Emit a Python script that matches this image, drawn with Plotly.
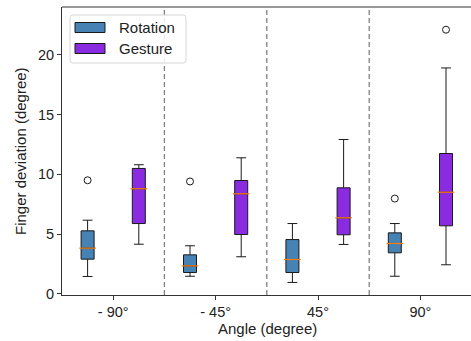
import plotly.graph_objects as go

angles = ["- 90°", "- 45°", "45°", "90°"]
positions = [0, 1, 2, 3]
offset = 0.25

rot_low = [1.45, 1.47, 0.95, 1.47]
rot_q1 = [2.90, 1.78, 1.78, 3.43]
rot_med = [3.82, 2.34, 2.87, 4.21]
rot_q3 = [5.27, 3.26, 4.54, 5.10]
rot_high = [6.16, 4.02, 5.88, 5.88]
rot_out_x = [0, 1, 3]
rot_out_y = [9.5, 9.4, 7.97]

ges_low = [4.15, 3.10, 4.13, 2.43]
ges_q1 = [5.88, 4.96, 4.94, 5.69]
ges_med = [8.79, 8.37, 6.36, 8.50]
ges_q3 = [10.49, 9.48, 8.87, 11.74]
ges_high = [10.80, 11.38, 12.91, 18.9]
ges_out_x = [3]
ges_out_y = [22.1]

series_names = ["Rotation", "Gesture"]

FONT = "Liberation Sans, Arial, sans-serif"
ROT_COLOR = "#4682B4"
GES_COLOR = "#8A2BE2"
MED_COLOR = "#FF7F0E"
EDGE = "#1a1a1a"
TXT = "#222222"
BOX_W = 0.127

W, H = 471, 341
ML, MT, MB, MR = 62, 7, 46, 0
PW, PH = W - ML - MR, H - MT - MB

def px(x):
    return (x - ML) / PW

def py(y):
    return 1 - (y - MT) / PH

fig = go.Figure()

def add_group(name, color, sign, low, q1, med, q3, high, ox, oy):
    xs = [p + sign * offset for p in positions]
    fig.add_trace(go.Box(
        name=name, x=xs, q1=q1, median=med, q3=q3,
        lowerfence=low, upperfence=high, width=BOX_W,
        fillcolor=color, line=dict(color=EDGE, width=1),
        whiskerwidth=0, boxpoints=False, showlegend=False,
    ))
    fig.add_trace(go.Scatter(
        x=xs + xs, y=low + high, mode="markers",
        marker=dict(symbol="line-ew", size=7, line=dict(color=EDGE, width=1)),
        showlegend=False, hoverinfo="skip",
    ))
    fig.add_trace(go.Scatter(
        x=xs, y=med, mode="markers",
        marker=dict(symbol="line-ew", size=12, line=dict(color=MED_COLOR, width=1.2)),
        showlegend=False, hoverinfo="skip",
    ))
    fig.add_trace(go.Scatter(
        x=[x + sign * offset for x in ox], y=oy, mode="markers",
        marker=dict(symbol="circle-open", size=7, color=EDGE, line=dict(width=1)),
        showlegend=False, hoverinfo="skip",
    ))

add_group(series_names[0], ROT_COLOR, -1, rot_low, rot_q1, rot_med, rot_q3, rot_high, rot_out_x, rot_out_y)
add_group(series_names[1], GES_COLOR, 1, ges_low, ges_q1, ges_med, ges_q3, ges_high, ges_out_x, ges_out_y)

for b in [p + 0.5 for p in positions[:-1]]:
    fig.add_vline(x=b, line=dict(color="#808080", width=1.3, dash="5px,3px"))

# top spine
fig.add_shape(type="line", xref="paper", yref="paper", x0=0, x1=1, y0=1, y1=1,
              line=dict(color="#333333", width=1))

# legend (drawn manually to match patch shape)
x0, x1, y0, y1, r = 70, 186, 15, 63, 3
path = (f"M {px(x0 + r)},{py(y0)} L {px(x1 - r)},{py(y0)} Q {px(x1)},{py(y0)} {px(x1)},{py(y0 + r)} "
        f"L {px(x1)},{py(y1 - r)} Q {px(x1)},{py(y1)} {px(x1 - r)},{py(y1)} "
        f"L {px(x0 + r)},{py(y1)} Q {px(x0)},{py(y1)} {px(x0)},{py(y1 - r)} "
        f"L {px(x0)},{py(y0 + r)} Q {px(x0)},{py(y0)} {px(x0 + r)},{py(y0)} Z")
fig.add_shape(type="path", path=path, xref="paper", yref="paper",
              fillcolor="rgba(255,255,255,0.85)", line=dict(color="#d6d6d6", width=1))
for i, (name, color) in enumerate(zip(series_names, [ROT_COLOR, GES_COLOR])):
    cy = 27.5 + 21 * i
    fig.add_shape(type="rect", xref="paper", yref="paper",
                  x0=px(75), x1=px(105), y0=py(cy - 5), y1=py(cy + 5),
                  fillcolor=color, line=dict(color=EDGE, width=1))
    fig.add_annotation(text=name, xref="paper", yref="paper", x=px(117), y=py(cy),
                       xanchor="left", yanchor="middle", showarrow=False,
                       font=dict(family=FONT, size=15, color=TXT))

fig.add_annotation(text="Finger deviation (degree)", xref="paper", yref="paper",
                   x=px(20), y=0.5, xanchor="center", yanchor="middle", textangle=-90,
                   showarrow=False, font=dict(family=FONT, size=15, color=TXT))
fig.add_annotation(text="Angle (degree)", xref="paper", yref="paper",
                   x=px(267), y=py(328), xanchor="center", yanchor="middle",
                   showarrow=False, font=dict(family=FONT, size=15, color=TXT))

fig.update_layout(
    width=W, height=H,
    margin=dict(l=ML, r=MR, t=MT, b=MB),
    paper_bgcolor="white", plot_bgcolor="white",
    font=dict(family=FONT, size=14.5, color=TXT),
    boxmode="overlay",
    showlegend=False,
    xaxis=dict(
        range=[-0.5, 3.494], tickmode="array", tickvals=positions, ticktext=angles,
        showgrid=False, zeroline=False, showline=True, linecolor="#333333", linewidth=1,
        mirror=False, ticks="outside", ticklen=4, tickcolor="#333333", automargin=False,
        tickfont=dict(size=14.5),
    ),
    yaxis=dict(
        range=[-0.1, 24.0], tickmode="array", tickvals=[0, 5, 10, 15, 20],
        showgrid=False, zeroline=False, showline=True, linecolor="#333333", linewidth=1,
        mirror=False, ticks="outside", ticklen=4, tickcolor="#333333", automargin=False,
        tickfont=dict(size=14.5),
    ),
)

fig.write_html("out.html", config={"displayModeBar": False},
               post_script="document.body.style.margin='0';document.body.style.padding='0';document.body.style.overflow='hidden';")
